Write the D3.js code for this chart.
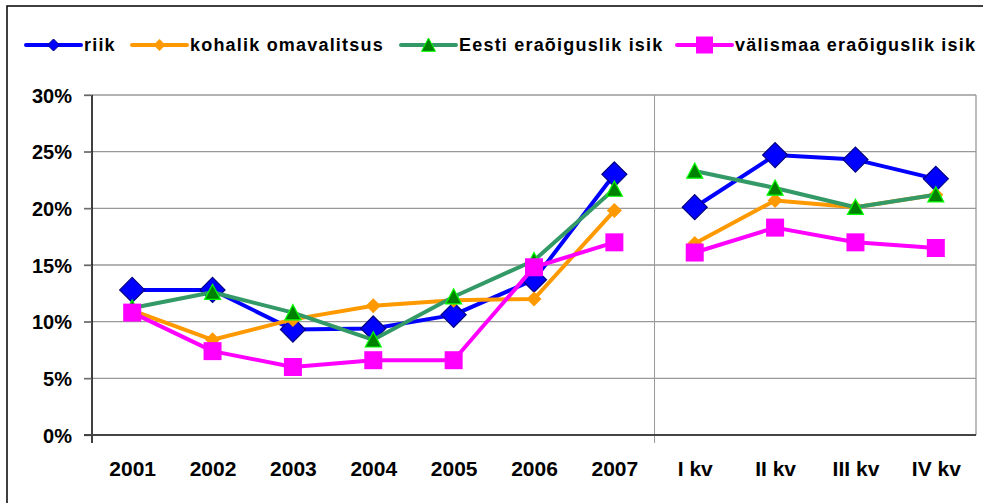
<!DOCTYPE html>
<html>
<head>
<meta charset="utf-8">
<script src="https://cdn.jsdelivr.net/npm/d3@7"></script>
<style>
  html, body { margin: 0; padding: 0; background: #fff; }
  svg text { font-family: "Liberation Sans", Arial, sans-serif; font-weight: bold; fill: #000; }
</style>
</head>
<body>
<svg id="chart" width="983" height="503"></svg>
<script>
const categories = ["2001", "2002", "2003", "2004", "2005", "2006", "2007", "I kv", "II kv", "III kv", "IV kv"];
const yTicks = [0, 0.05, 0.10, 0.15, 0.20, 0.25, 0.30];

const riik      = [0.128, 0.128, 0.093, 0.094, 0.106, 0.137, 0.230, 0.201, 0.247, 0.243, 0.226];
const kohalik   = [0.110, 0.084, 0.102, 0.114, 0.119, 0.120, 0.198, 0.169, 0.207, 0.201, 0.212];
const eesti     = [0.112, 0.126, 0.108, 0.084, 0.122, 0.154, 0.217, 0.233, 0.218, 0.201, 0.212];
const valismaa  = [0.108, 0.074, 0.060, 0.066, 0.066, 0.148, 0.170, 0.161, 0.183, 0.170, 0.165];

// years and quarters are drawn as separate line pieces
const segments = [[0, 7], [7, 11]];

const series = [
  { name: "riik", values: riik, color: "#0000ff", marker: "diamond", size: 25, fill: "#0000ff", stroke: "#000080", lsize: 12 },
  { name: "kohalik omavalitsus", values: kohalik, color: "#ff9900", marker: "diamond", size: 15, fill: "#ff9900", stroke: "none", lsize: 12 },
  { name: "Eesti eraõiguslik isik", values: eesti, color: "#339966", marker: "triangle", size: 16, fill: "#008000", stroke: "#00ff00", lsize: 14 },
  { name: "välismaa eraõiguslik isik", values: valismaa, color: "#ff00ff", marker: "square", size: 18, fill: "#ff00ff", stroke: "none", lsize: 17 }
];

const svg = d3.select("#chart");
const plot = { left: 92, right: 976, top: 95, bottom: 435 };

// outer chart frame
svg.append("rect")
  .attr("x", 7).attr("y", 6).attr("width", 1000).attr("height", 520)
  .attr("fill", "none").attr("stroke", "#000").attr("stroke-width", 1.5);

const x = d3.scalePoint().domain(categories).range([plot.left, plot.right]).padding(0.5);
const y = d3.scaleLinear().domain([0, 0.30]).range([plot.bottom, plot.top]);
const step = x.step();

// gridlines
svg.append("g")
  .selectAll("line")
  .data(yTicks.filter(d => d > 0))
  .join("line")
  .attr("x1", plot.left - 8).attr("x2", plot.right)
  .attr("y1", d => y(d)).attr("y2", d => y(d))
  .attr("stroke", "#999").attr("stroke-width", 1.3);

// right border of plot area and separator between years and quarters
svg.append("line")
  .attr("x1", plot.right).attr("x2", plot.right).attr("y1", plot.top).attr("y2", plot.bottom)
  .attr("stroke", "#999").attr("stroke-width", 1.3);
const sepX = plot.left + step * 7;
svg.append("line")
  .attr("x1", sepX).attr("x2", sepX).attr("y1", plot.top).attr("y2", plot.bottom + 8)
  .attr("stroke", "#999").attr("stroke-width", 1);

// y axis
const yAxis = svg.append("g")
  .attr("transform", `translate(${plot.left},0)`)
  .call(d3.axisLeft(y).tickValues(yTicks).tickFormat(d3.format(".0%")).tickSize(8).tickPadding(12));
yAxis.select(".domain").attr("stroke", "#000").attr("stroke-width", 1.5)
  .attr("d", `M0,${plot.top}V${plot.bottom + 8}`);
yAxis.selectAll(".tick line").attr("stroke", "#666").attr("stroke-width", 1.3);
yAxis.selectAll("text").style("font-size", "20px").attr("dy", "0.35em");

// x axis
const xAxis = svg.append("g")
  .attr("transform", `translate(0,${plot.bottom})`)
  .call(d3.axisBottom(x).tickSize(0).tickPadding(26));
xAxis.select(".domain").attr("stroke", "#444").attr("stroke-width", 2)
  .attr("d", `M${plot.left - 8},0H${plot.right}`);
xAxis.selectAll("text").style("font-size", "21px");

function markerPath(type, size) {
  const h = size / 2;
  if (type === "diamond") return `M0,${-h}L${h},0L0,${h}L${-h},0Z`;
  if (type === "triangle") return `M0,${-h}L${h},${h * 0.9}L${-h},${h * 0.9}Z`;
  return `M${-h},${-h}H${h}V${h}H${-h}Z`;
}

const line = d3.line().x(d => x(d.cat)).y(d => y(d.v));

series.forEach(s => {
  const pts = s.values.map((v, i) => ({ cat: categories[i], v }));
  const g = svg.append("g");
  segments.forEach(([a, b]) => {
    g.append("path")
      .attr("d", line(pts.slice(a, b)))
      .attr("fill", "none").attr("stroke", s.color).attr("stroke-width", 4)
      .attr("stroke-linejoin", "round");
  });
  g.selectAll("path.mk")
    .data(pts)
    .join("path")
    .attr("class", "mk")
    .attr("d", markerPath(s.marker, s.size))
    .attr("transform", d => `translate(${x(d.cat)},${y(d.v)})`)
    .attr("fill", s.fill).attr("stroke", s.stroke).attr("stroke-width", 1.2);
});

// legend
const legendX = [26, 132, 401, 677];
const legend = svg.append("g").attr("transform", "translate(0,45)");
series.forEach((s, i) => {
  const lg = legend.append("g").attr("transform", `translate(${legendX[i]},0)`);
  lg.append("line").attr("x1", 0).attr("x2", 55).attr("y1", 0).attr("y2", 0)
    .attr("stroke", s.color).attr("stroke-width", 4).attr("stroke-linecap", "round");
  lg.append("path").attr("d", markerPath(s.marker, s.lsize))
    .attr("transform", "translate(27.5,0)")
    .attr("fill", s.fill).attr("stroke", s.stroke).attr("stroke-width", 1);
  lg.append("text").attr("x", 58).attr("dy", "0.35em")
    .style("font-size", "18px").style("letter-spacing", "1.2px")
    .text(s.name);
});
</script>
</body>
</html>
